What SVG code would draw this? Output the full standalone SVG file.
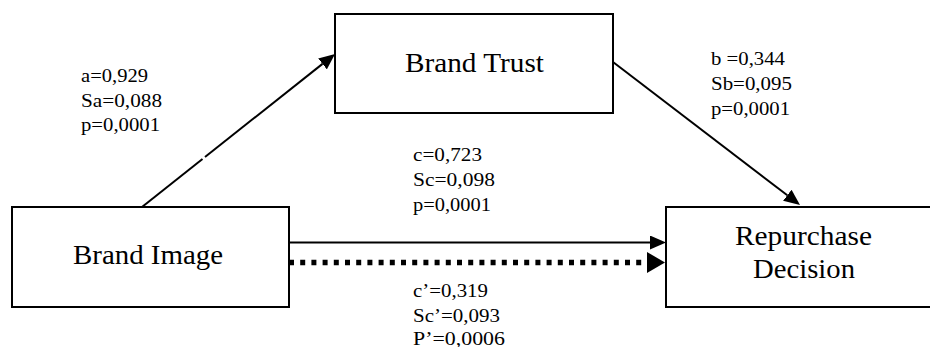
<svg xmlns="http://www.w3.org/2000/svg" width="930" height="347" viewBox="0 0 930 347">
  <style>
    .box { fill: #ffffff; stroke: #000000; stroke-width: 2; }
    .title { font-family: "Liberation Serif", "Times New Roman", serif; font-size: 27.5px; fill: #000000; }
    .stat { font-family: "Liberation Serif", "Times New Roman", serif; font-size: 19.5px; fill: #000000; }
    .edge { stroke: #000000; stroke-width: 2; fill: none; }
    .dotted { stroke: #000000; stroke-width: 5.5; fill: none; stroke-dasharray: 5 6.2; }
  </style>
  <defs>
    <marker id="head" markerUnits="userSpaceOnUse" markerWidth="17" markerHeight="14" refX="0" refY="7" orient="auto">
      <path d="M0,0 L16,7 L0,14 z" fill="#000000"/>
    </marker>
    <marker id="headBold" markerUnits="userSpaceOnUse" markerWidth="19" markerHeight="21" refX="0" refY="10.5" orient="auto">
      <path d="M0,0 L18,10.5 L0,21 z" fill="#000000"/>
    </marker>
  </defs>

  <rect width="930" height="347" fill="#ffffff"/>

  <g id="connectors">
    <!-- Brand Image -> Brand Trust (a), with a small break in the stroke -->
    <line class="edge" x1="142" y1="207" x2="202.5" y2="159"/>
    <line class="edge" x1="205" y1="157" x2="322.5" y2="63.9" marker-end="url(#head)"/>
    <!-- Brand Trust -> Repurchase Decision (b) -->
    <line class="edge" x1="613" y1="62" x2="787.3" y2="195.3" marker-end="url(#head)"/>
    <!-- total effect c -->
    <line class="edge" x1="289" y1="242.5" x2="650" y2="242.5" marker-end="url(#head)"/>
    <!-- direct effect c' -->
    <line class="dotted" x1="289" y1="262.5" x2="647" y2="262.5" marker-end="url(#headBold)"/>
  </g>

  <g id="brand-trust">
    <rect class="box" x="335" y="14" width="278" height="99"/>
    <text class="title" x="405" y="72" textLength="139" lengthAdjust="spacingAndGlyphs">Brand Trust</text>
  </g>

  <g id="brand-image">
    <rect class="box" x="12" y="207" width="277" height="100"/>
    <text class="title" x="73" y="264" textLength="150" lengthAdjust="spacingAndGlyphs">Brand Image</text>
  </g>

  <g id="repurchase-decision">
    <rect class="box" x="666" y="207" width="276" height="100"/>
    <text class="title" x="735" y="245" textLength="137" lengthAdjust="spacingAndGlyphs">Repurchase</text>
    <text class="title" x="753" y="278" textLength="102" lengthAdjust="spacingAndGlyphs">Decision</text>
  </g>

  <g id="labels">
    <text class="stat" x="81" y="82" textLength="67" lengthAdjust="spacingAndGlyphs">a=0,929</text>
    <text class="stat" x="81" y="107" textLength="81" lengthAdjust="spacingAndGlyphs">Sa=0,088</text>
    <text class="stat" x="81" y="131" textLength="79" lengthAdjust="spacingAndGlyphs">p=0,0001</text>

    <text class="stat" x="711" y="65" textLength="74" lengthAdjust="spacingAndGlyphs">b =0,344</text>
    <text class="stat" x="711" y="90" textLength="81" lengthAdjust="spacingAndGlyphs">Sb=0,095</text>
    <text class="stat" x="711" y="115" textLength="79" lengthAdjust="spacingAndGlyphs">p=0,0001</text>

    <text class="stat" x="413" y="161" textLength="69" lengthAdjust="spacingAndGlyphs">c=0,723</text>
    <text class="stat" x="413" y="186" textLength="82" lengthAdjust="spacingAndGlyphs">Sc=0,098</text>
    <text class="stat" x="413" y="211" textLength="78" lengthAdjust="spacingAndGlyphs">p=0,0001</text>

    <text class="stat" x="413" y="297" textLength="75" lengthAdjust="spacingAndGlyphs">c’=0,319</text>
    <text class="stat" x="413" y="322" textLength="87" lengthAdjust="spacingAndGlyphs">Sc’=0,093</text>
    <text class="stat" x="413" y="345" textLength="92" lengthAdjust="spacingAndGlyphs">P’=0,0006</text>
  </g>
</svg>
